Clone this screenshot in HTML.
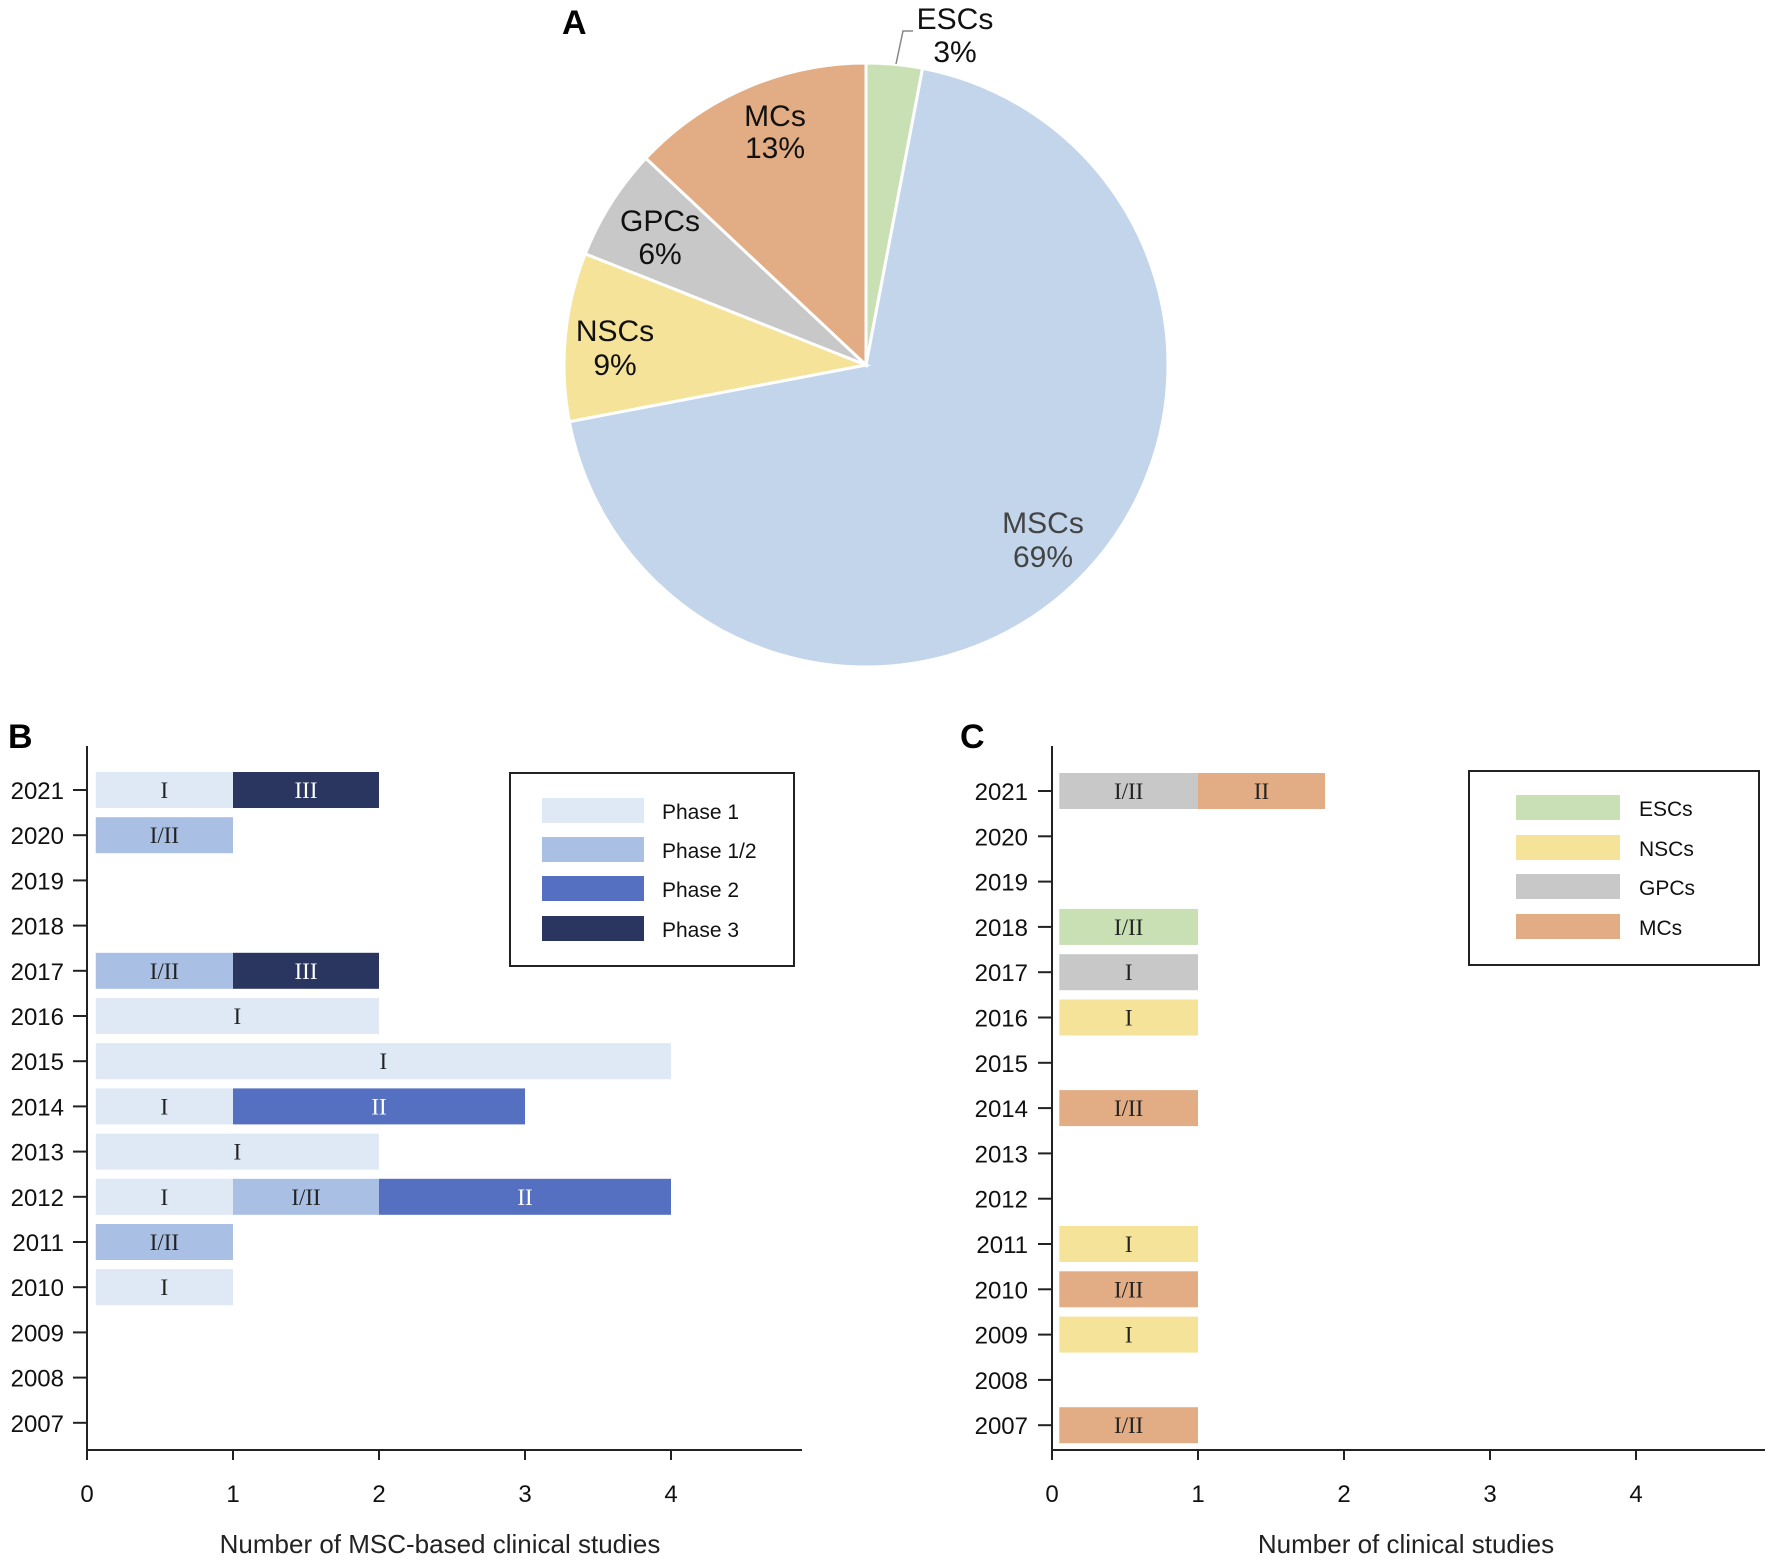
<!DOCTYPE html>
<html><head><meta charset="utf-8"><style>
body{margin:0;background:#fff}
svg{display:block}
.t{font-family:"Liberation Sans",sans-serif}
.s{font-family:"Liberation Serif",serif}
</style></head><body>
<svg id="fig" width="1772" height="1560" viewBox="0 0 1772 1560">
<g id="pie"></g>
<g id="chartB"></g>
<g id="chartC"></g>
<text class="t" x="562" y="34" font-size="34" font-weight="bold">A</text>
<text class="t" x="8" y="748" font-size="34" font-weight="bold">B</text>
<text class="t" x="960" y="748" font-size="34" font-weight="bold">C</text>
</svg>
<script>
const NS='http://www.w3.org/2000/svg';
// Pie data
const pieLabels=['ESCs','MSCs','NSCs','GPCs','MCs'];
const pieValues=[3,69,9,6,13];
const pieColors=['#c9e0b5','#c3d5eb','#f5e39a','#c8c8c8','#e2ad84'];
// Chart B data
const yearsB=[2021,2020,2019,2018,2017,2016,2015,2014,2013,2012,2011,2010,2009,2008,2007];
const segYearB=[2021,2021,2020,2017,2017,2016,2015,2014,2014,2013,2012,2012,2012,2011,2010];
const segPhaseB=[0,3,1,1,3,0,0,0,2,0,0,1,2,1,0];
const segCountB=[1,1,1,1,1,2,4,1,2,2,1,1,2,1,1];
const phaseNames=['Phase 1','Phase 1/2','Phase 2','Phase 3'];
const phaseLabels=['I','I/II','II','III'];
const phaseColors=['#dfe8f5','#a9c0e4','#5570c0','#2a3660'];
const xTicks=[0,1,2,3,4];
// Chart C data
const segYearC=[2021,2021,2018,2017,2016,2014,2011,2010,2009,2007];
const segTypeC=[2,3,0,2,1,3,1,3,1,3];
const segCountC=[1,0.87,1,1,1,1,1,1,1,1];
const segPhaseC=['I/II','II','I/II','I','I','I/II','I','I/II','I','I/II'];
const typeNames=['ESCs','NSCs','GPCs','MCs'];
const typeColors=['#c9e0b5','#f5e39a','#c8c8c8','#e2ad84'];

function el(tag,attrs,parent,txt){const e=document.createElementNS(NS,tag);for(const k in attrs)e.setAttribute(k,attrs[k]);if(txt!==undefined)e.textContent=txt;parent.appendChild(e);return e;}

// Pie
(function(){
const g=document.getElementById('pie');
const cx=866,cy=365,r=302;
const total=pieValues.reduce((a,b)=>a+b,0);
let a0=0;
const labelPos=[[955,5,38],[1043,509,543],[615,317,351],[660,207,240],[775,102,134]];
pieValues.forEach((v,i)=>{
 const a1=a0+v/total*2*Math.PI;
 const p=(a)=>[cx+r*Math.sin(a),cy-r*Math.cos(a)];
 const [x0,y0]=p(a0),[x1,y1]=p(a1);
 const large=(a1-a0)>Math.PI?1:0;
 const s=el('path',{d:`M${cx},${cy}L${x0},${y0}A${r},${r} 0 ${large} 1 ${x1},${y1}Z`,fill:pieColors[i],stroke:'#fff','stroke-width':3},g);
 
 
 const lp=labelPos[i];
 const col=i===1?'#444':'#111';
 const t1=el('text',{class:'t',x:lp[0],y:lp[1]+24,'font-size':30,'text-anchor':'middle',fill:col},g,pieLabels[i]);
 
 
 const t2=el('text',{class:'t',x:lp[0],y:lp[2]+24,'font-size':30,'text-anchor':'middle',fill:col},g,pieValues[i]+'%');
 
 
 a0=a1;
});
const ld=el('polyline',{points:'896,64 903,31 913,31',fill:'none',stroke:'#888','stroke-width':1.5},g);


})();

function axes(g,x0,unit,yTop,y2021,step,xEnd,yAxisBottom,labRight,title,titleX){
 const yS=(yr)=>y2021+(2021-yr)*step;
 const ax=el('line',{x1:x0,y1:yTop,x2:x0,y2:yAxisBottom,stroke:'#222','stroke-width':2},g);
 
 const bx=el('line',{x1:x0,y1:yAxisBottom,x2:xEnd,y2:yAxisBottom,stroke:'#222','stroke-width':2},g);
 
 yearsB.forEach(yr=>{
  el('line',{x1:x0-14,y1:yS(yr),x2:x0,y2:yS(yr),stroke:'#222','stroke-width':2},g);
  const t=el('text',{class:'t',x:labRight,y:yS(yr)+9,'font-size':24,'text-anchor':'end',fill:'#111'},g,String(yr));
  
 });
 xTicks.forEach(v=>{
  const x=x0+v*unit;
  el('line',{x1:x,y1:yAxisBottom,x2:x,y2:yAxisBottom+10,stroke:'#222','stroke-width':2},g);
  const t=el('text',{class:'t',x:x,y:yAxisBottom+52,'font-size':24,'text-anchor':'middle',fill:'#111'},g,String(v));
  
 });
 const tt=el('text',{class:'t',x:titleX,y:1553,'font-size':26,'text-anchor':'middle',fill:'#222'},g,title);
 
 return yS;
}

// Chart B
(function(){
const g=document.getElementById('chartB');
const x0=87,unit=146,step=45.2,bh=36;
const yS=axes(g,x0,unit,746,790,step,802,1450,64,'Number of MSC-based clinical studies',440);
const xS=v=>x0+v*unit;
const acc={};
segYearB.forEach((yr,i)=>{
 const start=acc[yr]||0;const end=start+segCountB[i];acc[yr]=end;
 const xa=xS(start===0?0.06:start),xb=xS(end);
 const p=segPhaseB[i];
 const r=el('rect',{x:xa,y:yS(yr)-bh/2,width:xb-xa,height:bh,fill:phaseColors[p]},g);
 
 
 const t=el('text',{class:'s',x:(xa+xb)/2,y:yS(yr)+8,'font-size':23,'text-anchor':'middle',fill:p>=2?'#fff':'#222'},g,phaseLabels[p]);
 
});
const lb=el('rect',{x:510,y:773,width:284,height:193,fill:'#fff',stroke:'#222','stroke-width':2},g);

const rows=[811,850,889,929];
phaseNames.forEach((n,i)=>{
 const s=el('rect',{x:542,y:rows[i]-13,width:102,height:25,fill:phaseColors[i]},g);
 
 const t=el('text',{class:'t',x:662,y:rows[i]+8,'font-size':21,fill:'#111'},g,n);
 
});
})();

// Chart C
(function(){
const g=document.getElementById('chartC');
const x0=1052,unit=146,step=45.3,bh=36;
const yS=axes(g,x0,unit,746,791,step,1765,1450,1028,'Number of clinical studies',1406);
const xS=v=>x0+v*unit;
const acc={};
segYearC.forEach((yr,i)=>{
 const start=acc[yr]||0;const end=start+segCountC[i];acc[yr]=end;
 const xa=xS(start===0?0.05:start),xb=xS(end);
 const r=el('rect',{x:xa,y:yS(yr)-bh/2,width:xb-xa,height:bh,fill:typeColors[segTypeC[i]]},g);
 
 
 const t=el('text',{class:'s',x:(xa+xb)/2,y:yS(yr)+8,'font-size':23,'text-anchor':'middle',fill:'#222'},g,segPhaseC[i]);
 
});
const lb=el('rect',{x:1469,y:771,width:290,height:194,fill:'#fff',stroke:'#222','stroke-width':2},g);

const rows=[808,848,887,927];
typeNames.forEach((n,i)=>{
 const s=el('rect',{x:1516,y:rows[i]-13,width:104,height:25,fill:typeColors[i]},g);
 
 const t=el('text',{class:'t',x:1639,y:rows[i]+8,'font-size':21,fill:'#111'},g,n);
 
});
})();
</script>
</body></html>
